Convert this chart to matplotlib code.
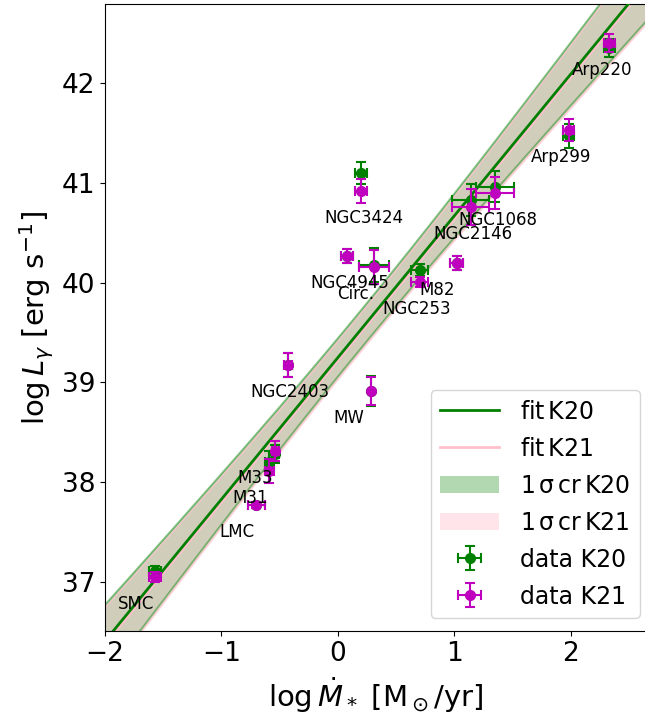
import numpy as np
import matplotlib
matplotlib.use('Agg')
import matplotlib.pyplot as plt

# galaxies: log SFR, log L_gamma (K20 / K21) and errors
names = ['SMC', 'LMC', 'M31', 'M33', 'NGC2403', 'MW', 'NGC4945', 'Circ.',
         'NGC253', 'M82', 'NGC3424', 'NGC2146', 'NGC1068', 'Arp299', 'Arp220']
log_sfr = [-1.57, -0.70, -0.59, -0.54, -0.43, 0.28, 0.08, 0.31,
           0.70, 1.02, 0.20, 1.14, 1.35, 1.98, 2.33]
sfr_err = [0.05, 0.07, 0.04, 0.03, 0.035, 0.0, 0.05, 0.13,
           0.07, 0.057, 0.05, 0.16, 0.165, 0.05, 0.05]
lg_k20 = [37.11, 37.77, 38.20, 38.28, 39.17, 38.91, 40.27, 40.18,
          40.13, 40.20, 41.10, 40.83, 40.96, 41.47, 42.35]
lg_k20_err = [0.05, 0.03, 0.11, 0.09, 0.12, 0.15, 0.07, 0.17,
              0.06, 0.07, 0.11, 0.16, 0.155, 0.12, 0.09]
lg_k21 = [37.05, 37.77, 38.11, 38.31, 39.17, 38.91, 40.27, 40.16,
          40.01, 40.20, 40.92, 40.76, 40.90, 41.53, 42.40]
lg_k21_err = [0.05, 0.03, 0.12, 0.10, 0.12, 0.14, 0.07, 0.17,
              0.05, 0.07, 0.12, 0.18, 0.16, 0.11, 0.09]

# linear fits  log L = a*log SFR + b, 1 sigma band around pivot x0
fit_k20 = {'a': 1.42, 'b': 39.25, 'x0': 0.2, 'sb': 0.19, 'sa': 0.14}
fit_k21 = {'a': 1.42, 'b': 39.22, 'x0': 0.2, 'sb': 0.19, 'sa': 0.14}

fig = plt.figure(figsize=(6.45, 7.22), dpi=100)
ax = fig.add_axes([0.1628, 0.126, 0.8398, 0.8685])

xx = np.linspace(-2.3, 2.9, 300)


def fit_line(p):
    y = p['a'] * xx + p['b']
    hw = np.sqrt(p['sb'] ** 2 + (p['sa'] * (xx - p['x0'])) ** 2)
    return y, y - hw, y + hw


y20, lo20, hi20 = fit_line(fit_k20)
y21, lo21, hi21 = fit_line(fit_k21)

l1, = ax.plot(xx, y20, color='green', lw=2, zorder=3)
l2, = ax.plot(xx, y21, color='pink', lw=2, zorder=2)
b1 = ax.fill_between(xx, lo20, hi20, color='green', alpha=0.3, lw=0)
b2 = ax.fill_between(xx, lo21, hi21, color='pink', alpha=0.4, lw=0)
# band borders
for edge in (lo20, hi20):
    ax.plot(xx, edge, color='green', alpha=0.45, lw=1.5, zorder=1.5)
for edge in (lo21, hi21):
    ax.plot(xx, edge, color='pink', alpha=0.7, lw=1.2, zorder=1.6)

e1 = ax.errorbar(log_sfr, lg_k20, xerr=sfr_err, yerr=lg_k20_err, fmt='o',
                 color='green', ms=7, capsize=3.5, elinewidth=1.5,
                 capthick=1.5, zorder=4)
e2 = ax.errorbar(log_sfr, lg_k21, xerr=sfr_err, yerr=lg_k21_err, fmt='o',
                 color='m', ms=7, capsize=3.5, elinewidth=1.5,
                 capthick=1.5, zorder=5)

for n, x, y in zip(names, log_sfr, lg_k21):
    ax.text(x - 0.32, y - 0.32, n, fontsize=12, zorder=6)

ax.set_xlim(-2, 2.65)
ax.set_ylim(36.51, 42.79)
ax.set_xticks([-2, -1, 0, 1, 2])
ax.set_yticks([37, 38, 39, 40, 41, 42])
ax.tick_params(labelsize=19)
ax.set_xlabel(r'$\log\dot{M}_*\ [\mathrm{M_\odot/yr}]$', fontsize=21, labelpad=6)
ax.set_ylabel(r'$\log L_\gamma\ [\mathrm{erg\ s^{-1}}]$', fontsize=21)

ax.legend([l1, l2, b1, b2, e1, e2],
          [r'$\rm fit\,K20$', r'$\rm fit\,K21$', r'$\rm 1\,\sigma\,cr\,K20$',
           r'$\rm 1\,\sigma\,cr\,K21$', 'data K20', 'data K21'],
          fontsize=17, loc='lower right', bbox_to_anchor=(640 / 645, 104 / 722),
          bbox_transform=fig.transFigure, borderaxespad=0,
          labelspacing=0.55, handlelength=2.5, handletextpad=0.9)

fig.savefig('out.png', dpi=100)
